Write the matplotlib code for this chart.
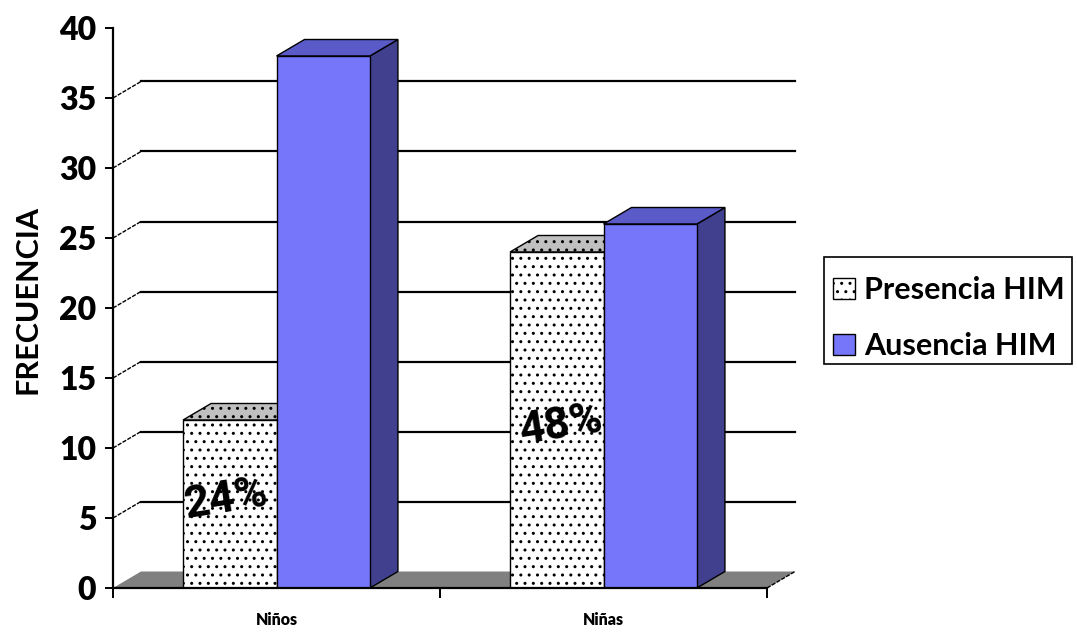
import matplotlib
matplotlib.use("Agg")
import matplotlib.pyplot as plt
from matplotlib.patches import Polygon, Patch, Rectangle

# ---- data ----
categories = ["Niños", "Niñas"]
series_names = ["Presencia HIM", "Ausencia HIM"]
presencia = [12, 24]
ausencia = [38, 26]
pct_labels = ["24%", "48%"]
y_ticks = [0, 5, 10, 15, 20, 25, 30, 35, 40]

# ---- style / layout ----
W, H = 1077, 632
fig = plt.figure(figsize=(W / 100, H / 100), dpi=100)
px_left, px_right, px_bottom, px_top = 113, 800, 588, 20
ax = fig.add_axes([px_left / W, (H - px_bottom) / H,
                   (px_right - px_left) / W, (px_bottom - px_top) / H])
cat_px = 327.0      # pixels per category
val_px = 14.0       # pixels per unit
ax.set_xlim(0, (px_right - px_left) / cat_px)
ax.set_ylim(0, (px_bottom - px_top) / val_px)

dx = 28 / cat_px    # depth offset in x units
dy = 16.5 / val_px  # depth offset in y units

font = "Lato"
n_cat = len(categories)

# side wall + back wall grid lines
for v in y_ticks[1:-1]:
    ax.plot([0, dx], [v, v + dy], color="black", lw=1.0, ls=(0, (3, 1)), zorder=1)
    ax.plot([dx, n_cat + dx], [v + dy, v + dy], color="black", lw=1.6, zorder=1)

# floor
ax.add_patch(Polygon([(0, 0), (n_cat, 0), (n_cat + dx, dy), (dx, dy)],
                     closed=True, facecolor="#808080", edgecolor="none", zorder=2))
ax.plot([n_cat, n_cat + dx], [0, dy], color="black", lw=1.0, ls=(0, (3, 1)), zorder=2)

bar_w = 1 / 3.5
offset = 0.75 / 3.5

styles = [
    dict(front="white", top="#c0c0c0", side="#a0a0a0", hatch=".."),
    dict(front="#7676fa", top="#5a5ac8", side="#40408e", hatch=None),
]
all_vals = [presencia, ausencia]

for c in range(n_cat):
    for s, vals in enumerate(all_vals):
        v = vals[c]
        st = styles[s]
        x0 = c + offset + s * bar_w
        x1 = x0 + bar_w
        z = 3 + s
        ax.add_patch(Polygon([(x1, 0), (x1 + dx, dy), (x1 + dx, v + dy), (x1, v)],
                             closed=True, facecolor=st["side"], edgecolor="black",
                             lw=1.0, hatch=st["hatch"], zorder=z))
        ax.add_patch(Polygon([(x0, v), (x1, v), (x1 + dx, v + dy), (x0 + dx, v + dy)],
                             closed=True, facecolor=st["top"], edgecolor="black",
                             lw=1.0, hatch=st["hatch"], zorder=z))
        ax.add_patch(Polygon([(x0, 0), (x1, 0), (x1, v), (x0, v)],
                             closed=True, facecolor=st["front"], edgecolor="black",
                             lw=1.0, hatch=st["hatch"], zorder=z))

# percentage labels on Presencia bars
label_y = [6.3, 11.6]
label_dx = [-0.01, 0.014]
for c in range(n_cat):
    xc = c + offset + bar_w / 2 + label_dx[c]
    ax.text(xc, label_y[c], pct_labels[c], ha="center", va="center",
            rotation=9, fontsize=32, fontweight="bold",
            family=["Roboto", "DejaVu Sans"], color="black", zorder=10)

# axes
for sp in ["top", "right"]:
    ax.spines[sp].set_visible(False)
ax.spines["left"].set_bounds(0, 40)
ax.spines["bottom"].set_bounds(0, n_cat)
for sp in ["left", "bottom"]:
    ax.spines[sp].set_linewidth(1.6)
    ax.spines[sp].set_zorder(6)

ax.set_yticks(y_ticks)
ax.set_yticklabels([str(t) for t in y_ticks], fontsize=23, fontweight="heavy", family=font)
ax.tick_params(axis="y", length=6, width=1.4, pad=6)

ax.set_xticks(list(range(n_cat + 1)))
ax.set_xticklabels([""] * (n_cat + 1))
ax.tick_params(axis="x", which="major", length=7, width=1.4)
ax.set_xticks([c + 0.5 for c in range(n_cat)], minor=True)
ax.set_xticklabels(categories, minor=True, fontsize=11.5, fontweight="heavy", family=font)
ax.tick_params(axis="x", which="minor", length=0, pad=17)

fig.text(28 / W, 1 - 299 / H, "FRECUENCIA", rotation=90, ha="center", va="center",
         fontsize=22, fontweight="bold", family=font)

# legend (frame drawn as a rectangle in figure pixels)
fig.patches.append(Rectangle((824 / W, 1 - 364 / H), (1072 - 824) / W, (364 - 257) / H,
                             transform=fig.transFigure, facecolor="white",
                             edgecolor="black", lw=1.2, zorder=0))
handles = [Patch(facecolor="white", edgecolor="black", hatch="..", label=series_names[0]),
           Patch(facecolor="#7676fa", edgecolor="black", label=series_names[1])]
leg = fig.legend(handles=handles, loc="upper left",
                 bbox_to_anchor=(824 / W, 1 - 267 / H),
                 prop=dict(family=font, weight="bold", size=22),
                 frameon=False,
                 handlelength=0.72, handleheight=0.72, handletextpad=0.3,
                 borderpad=0.3, labelspacing=0.92, borderaxespad=0)

fig.savefig("out.png", dpi=100)
